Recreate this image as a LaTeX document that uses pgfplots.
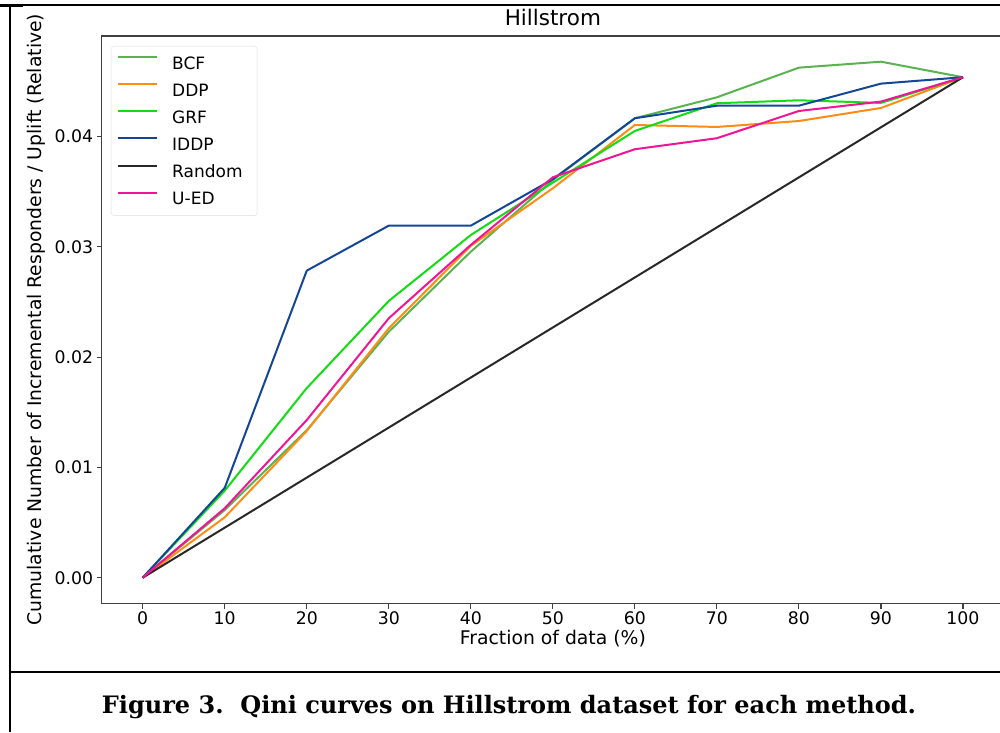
\documentclass[border=0pt]{standalone}
\usepackage{fontspec}
\setmainfont{DejaVu Sans}
\newfontfamily\capfont{DejaVu Serif}
\usepackage{pgfplots}
\pgfplotsset{compat=1.18}

\definecolor{cBCF}{RGB}{90,178,80}
\definecolor{cDDP}{RGB}{255,140,20}
\definecolor{cGRF}{RGB}{20,220,20}
\definecolor{cIDDP}{RGB}{20,70,150}
\definecolor{cRand}{RGB}{40,40,40}
\definecolor{cUED}{RGB}{240,20,150}

\begin{document}
\begin{tikzpicture}[x=1pt,y=1pt]
\begin{axis}[
    at={(101.7pt,128.5pt)}, anchor=south west,
    scale only axis, width=902.3pt, height=567.5pt,
    xmin=-5, xmax=105, ymin=-0.00234, ymax=0.04913,
    xtick={0,10,...,100},
    ytick={0,0.01,0.02,0.03,0.04},
    scaled y ticks=false,
    yticklabel style={/pgf/number format/.cd, fixed, fixed zerofill, precision=2},
    /pgf/number format/assume math mode=true,
    xtick pos=bottom, ytick pos=left,
    tick align=outside, major tick length=5pt,
    tick style={black!75, line width=1.1pt},
    axis line style={black!75, line width=1.3pt},
    ticklabel style={font=\fontsize{17.3}{20}\selectfont},
    xlabel={Fraction of data (\%)},
    ylabel={Cumulative Number of Incremental Responders / Uplift (Relative)},
    label style={font=\fontsize{18.8}{22}\selectfont},
    xlabel style={at={(axis description cs:0.5,-0.0714)}, anchor=base},
    ylabel style={at={(axis description cs:-0.0662,0.5)}, anchor=base},
    title={Hillstrom},
    title style={at={(axis description cs:0.5,1.0076)}, anchor=base, font=\fontsize{21.5}{24}\selectfont},
    legend cell align=left,
    legend image code/.code={\draw[#1] (0pt,6.2pt) -- (39pt,6.2pt);},
    legend style={at={(0.0103,0.9824)}, anchor=north west,
        draw=black!13, rounded corners=3pt, fill=white, fill opacity=0.8, text opacity=1,
        inner xsep=6pt, inner ysep=10pt,
        font=\fontsize{17}{20}\selectfont,
        nodes={inner sep=0pt, text height=12.4pt, text depth=1pt},
        /tikz/every odd column/.append style={column sep=14pt},
        /tikz/every even column/.append style={text width=79pt},
        row sep=13.2pt},
    every axis plot/.append style={line width=2pt},
]
\addplot[cBCF] coordinates {
    (0,0) (10,0.00614) (20,0.01338) (30,0.02231) (40,0.02957) (50,0.03607)
    (60,0.04167) (70,0.04357) (80,0.04626) (90,0.04680) (100,0.04539)
};
\addlegendentry{BCF}
\addplot[cDDP] coordinates {
    (0,0) (10,0.00548) (20,0.01330) (30,0.02262) (40,0.03010) (50,0.03532)
    (60,0.04106) (70,0.04088) (80,0.04142) (90,0.04260) (100,0.04539)
};
\addlegendentry{DDP}
\addplot[cGRF] coordinates {
    (0,0) (10,0.00790) (20,0.01720) (30,0.02510) (40,0.03108) (50,0.03583)
    (60,0.04052) (70,0.04303) (80,0.04330) (90,0.04306) (100,0.04539)
};
\addlegendentry{GRF}
\addplot[cIDDP] coordinates {
    (0,0) (10,0.00815) (20,0.02785) (30,0.03193) (40,0.03193) (50,0.03614)
    (60,0.04167) (70,0.04281) (80,0.04281) (90,0.04481) (100,0.04539)
};
\addlegendentry{IDDP}
\addplot[cRand] coordinates {
    (0,0) (100,0.04539)
};
\addlegendentry{Random}
\addplot[cUED] coordinates {
    (0,0) (10,0.00630) (20,0.01430) (30,0.02353) (40,0.03018) (50,0.03632)
    (60,0.03886) (70,0.03986) (80,0.04233) (90,0.04318) (100,0.04539)
};
\addlegendentry{U-ED}
\end{axis}
\draw[line width=2pt] (10,0) -- (10,727);
\draw[line width=1.6pt] (10,727) -- (1000,727);
\draw[line width=2.5pt] (0,726.5) -- (23,726.5);
\draw[line width=2pt] (10,60) -- (1000,60);
\node[font=\capfont\bfseries\fontsize{24}{28}\selectfont, anchor=base] at (509,19)
    {Figure 3.\ \ Qini curves on Hillstrom dataset for each method.};
\pgfresetboundingbox
\path[use as bounding box] (0,0) rectangle (1000,732);
\end{tikzpicture}
\end{document}
